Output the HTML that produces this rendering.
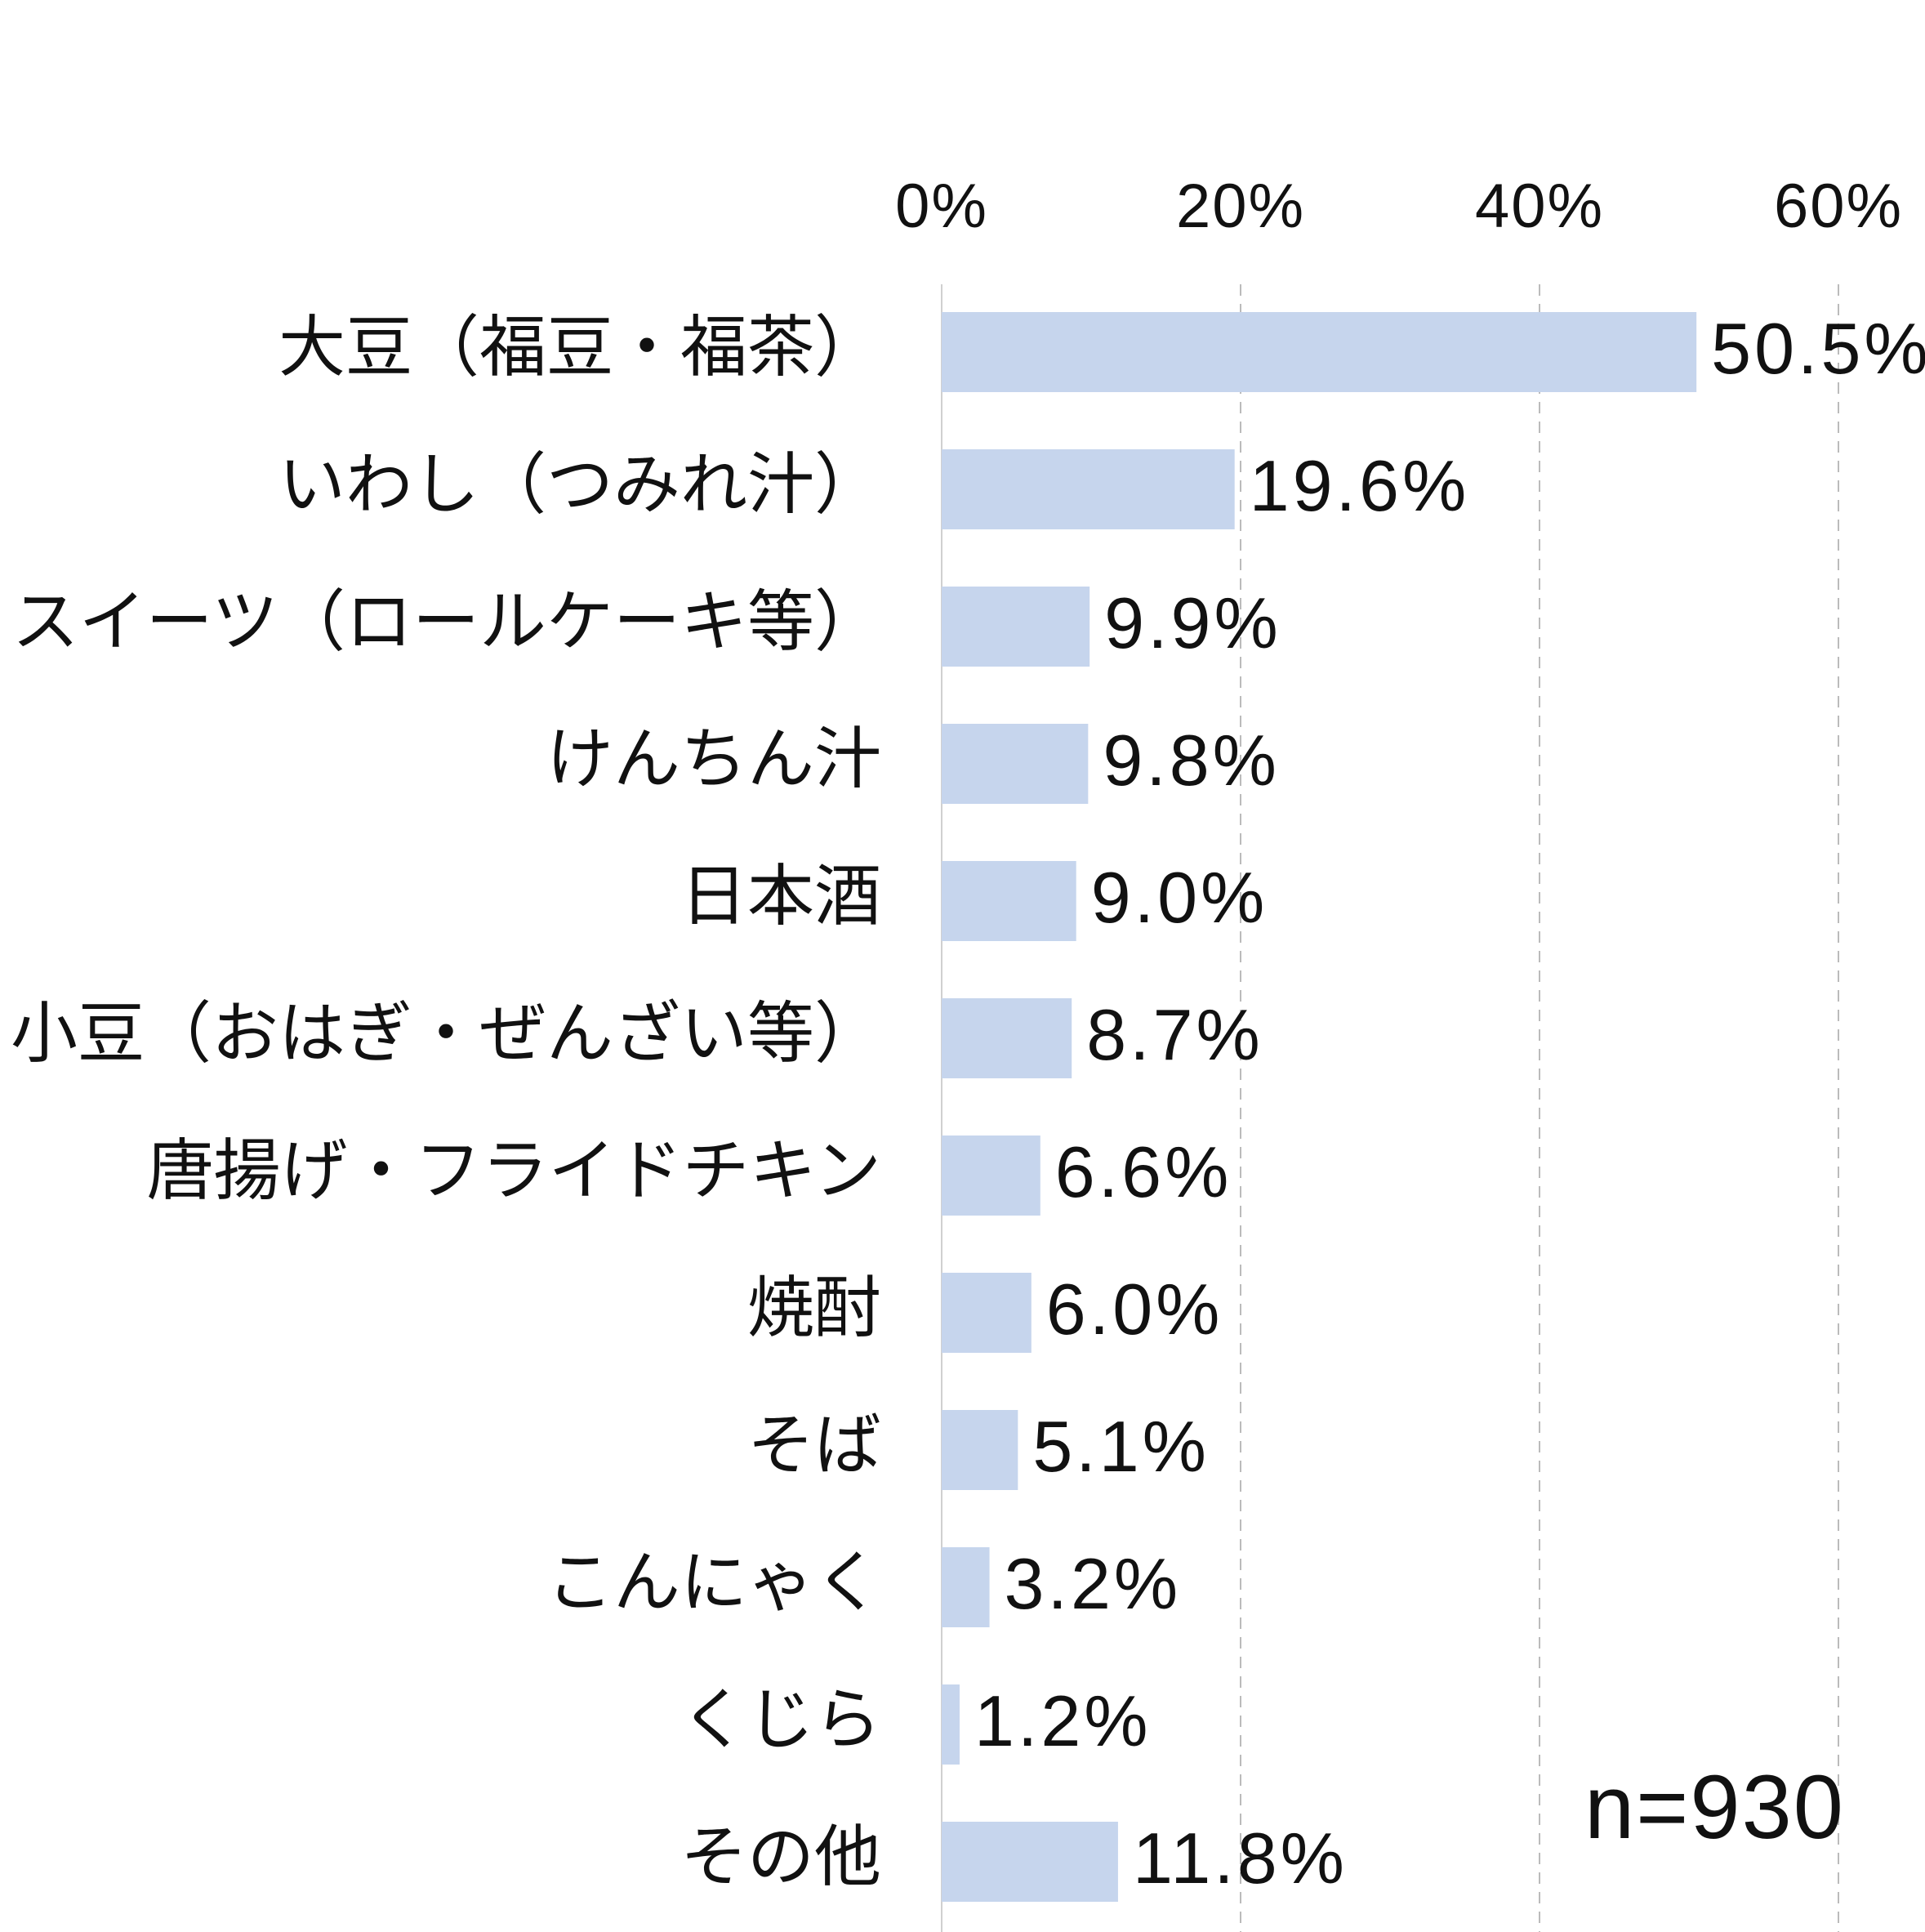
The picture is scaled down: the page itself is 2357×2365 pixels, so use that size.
<!DOCTYPE html>
<html><head><meta charset="utf-8">
<style>
html,body{margin:0;padding:0;background:#fff;}
svg{display:block;}
text{font-family:"Liberation Sans","Noto Sans CJK JP",sans-serif;fill:#111;}
</style></head>
<body>
<svg id="chart" width="2357" height="2365" viewBox="0 0 2357 2365" xmlns="http://www.w3.org/2000/svg">
<g id="grid"></g>
<g id="ticks"></g>
<g id="bars"></g>
<g id="cats"></g>
<g id="vals"></g>
<text x="1940" y="2250" font-size="110" letter-spacing="2">n=930</text>
</svg>
<script>
const categories = ["大豆（福豆・福茶）","いわし（つみれ汁）","スイーツ（ロールケーキ等）","けんちん汁","日本酒","小豆（おはぎ・ぜんざい等）","唐揚げ・フライドチキン","焼酎","そば","こんにゃく","くじら","その他"];
const values = [50.5,19.6,9.9,9.8,9.0,8.7,6.6,6.0,5.1,3.2,1.2,11.8];
const valueLabels = ["50.5%","19.6%","9.9%","9.8%","9.0%","8.7%","6.6%","6.0%","5.1%","3.2%","1.2%","11.8%"];
const tickValues = [0,20,40,60];
const tickLabels = ["0%","20%","40%","60%"];

const NS="http://www.w3.org/2000/svg";
const x0=1153, pxPer=18.3;
const xScale=v=>x0+v*pxPer;
const top0=382, pitch=168, barH=98;
const yScale=i=>top0+i*pitch;
function mk(tag,attrs,parent){const e=document.createElementNS(NS,tag);for(const k in attrs)e.setAttribute(k,attrs[k]);parent.appendChild(e);return e;}
const grid=document.getElementById('grid'),ticks=document.getElementById('ticks'),bars=document.getElementById('bars'),cats=document.getElementById('cats'),vals=document.getElementById('vals');
tickValues.forEach((t,i)=>{
  const x=xScale(t);
  const l=mk('line',{x1:x,x2:x,y1:348,y2:2365,stroke:i===0?'#d0d0d0':'#bbbbbb','stroke-width':2,'stroke-dasharray':i===0?'none':'14 10'},grid);
  
  
  const tx=mk('text',{x:x,y:278,'font-size':76,'text-anchor':'middle','letter-spacing':2},ticks);
  tx.textContent=tickLabels[i];
  
  
});
categories.forEach((c,i)=>{
  const y=yScale(i), cy=y+barH/2;
  const r=mk('rect',{x:x0,y:y,width:xScale(values[i])-x0,height:barH,fill:'#c6d5ed'},bars);
  
  
  const t=mk('text',{x:1079,y:cy+22,'font-size':82,'text-anchor':'end'},cats);
  t.textContent=c;
  
  
  const v=mk('text',{x:xScale(values[i])+18,y:cy+26,'font-size':88,'letter-spacing':4},vals);
  v.textContent=valueLabels[i];
  
  
});
</script>
</body></html>
